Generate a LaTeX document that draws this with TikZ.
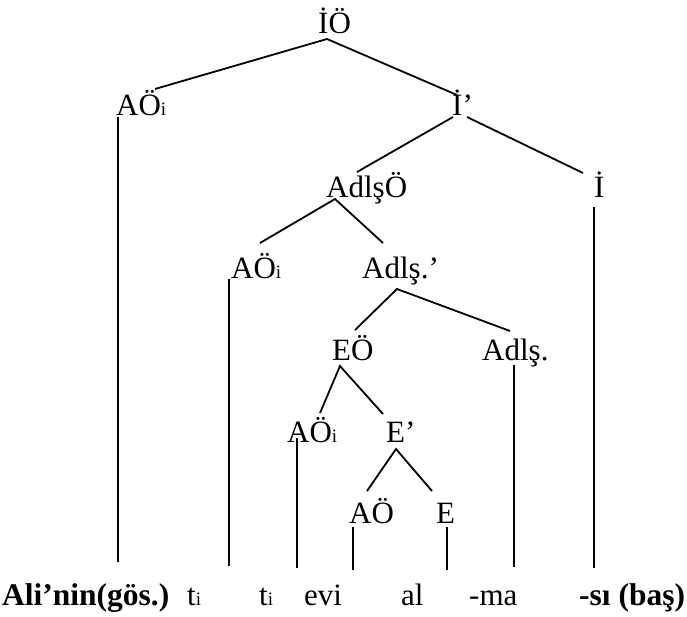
\documentclass[tikz,border=0pt]{standalone}
\usepackage{fontspec}
\setmainfont{Liberation Serif}
\newcommand{\sbi}{{\fontsize{19}{19}\selectfont i}}
\begin{document}
\begin{tikzpicture}[x=1pt,y=-1pt,
  lbl/.style={inner sep=0pt, anchor=base west, font=\fontsize{31}{36}\selectfont},
  wrd/.style={lbl, font=\fontsize{31.5}{36}\selectfont\bfseries},
  edge/.style={line width=1.8pt}]
\useasboundingbox (0,0) rectangle (687,616);
% labels
\node[lbl] (IO) at (318,33) {İÖ};
\node[lbl] (AO1) at (116,115) {AÖ\sbi};
\node[lbl] (Ip) at (452,115) {İ’};
\node[lbl] (AdlsO) at (326,197) {AdlşÖ};
\node[lbl] (I) at (594,197) {İ};
\node[lbl] (AO2) at (231,278) {AÖ\sbi};
\node[lbl] (Adlsp) at (362,278) {Adlş.’};
\node[lbl] (EO) at (332,360) {EÖ};
\node[lbl] (Adls) at (482,360) {Adlş.};
\node[lbl] (AO3) at (287,442) {AÖ\sbi};
\node[lbl] (Ep) at (386,442) {E’};
\node[lbl] (AO) at (349,523) {AÖ};
\node[lbl] (E) at (436,523) {E};
% words
\node[wrd] (w1) at (2,605) {Ali’nin(gös.)};
\node[lbl] (w2) at (187,605) {t\sbi};
\node[lbl] (w3) at (259,605) {t\sbi};
\node[lbl] (w4) at (304,605) {evi};
\node[lbl] (w5) at (401,605) {al};
\node[lbl] (w6) at (469,605) {-ma};
\node[wrd] (w7) at (579,605) {-sı (baş)};
% connector points
\coordinate (IO-b) at (327,39);
\coordinate (AO1-t) at (155,89);
\coordinate (Ip-t) at (457,95);
\coordinate (AO1-b) at (118,117);
\coordinate (w1-t) at (118,562);
\coordinate (Ip-bl) at (453,117);
\coordinate (Ip-br) at (467,117);
\coordinate (AdlsO-t) at (357,172);
\coordinate (I-t) at (583,173);
\coordinate (I-b) at (594,207);
\coordinate (w7-t) at (594,568);
\coordinate (AdlsO-b) at (335,199);
\coordinate (AO2-t) at (260,243);
\coordinate (Adlsp-t) at (383,243);
\coordinate (AO2-b) at (229,279);
\coordinate (w2-t) at (229,566);
\coordinate (Adlsp-b) at (397,289);
\coordinate (EO-t) at (355,330);
\coordinate (Adls-t) at (510,331);
\coordinate (Adls-b) at (514,365);
\coordinate (w6-t) at (514,567);
\coordinate (EO-b) at (340,366);
\coordinate (AO3-t) at (320,413);
\coordinate (Ep-t) at (383,414);
\coordinate (AO3-b) at (297,438);
\coordinate (w3-t) at (297,568);
\coordinate (Ep-b) at (396,449);
\coordinate (AO-t) at (367,491);
\coordinate (E-t) at (432,491);
\coordinate (AO-b) at (353,527);
\coordinate (w4-t) at (353,570);
\coordinate (E-b) at (447,527);
\coordinate (w5-t) at (447,570);
% connectors
\draw[edge] (AO1-t) -- (IO-b) -- (Ip-t);
\draw[edge] (AO1-b) -- (w1-t);
\draw[edge] (AdlsO-t) -- (Ip-bl);
\draw[edge] (Ip-br) -- (I-t);
\draw[edge] (I-b) -- (w7-t);
\draw[edge] (AO2-t) -- (AdlsO-b) -- (Adlsp-t);
\draw[edge] (AO2-b) -- (w2-t);
\draw[edge] (EO-t) -- (Adlsp-b) -- (Adls-t);
\draw[edge] (Adls-b) -- (w6-t);
\draw[edge] (AO3-t) -- (EO-b) -- (Ep-t);
\draw[edge] (AO3-b) -- (w3-t);
\draw[edge] (AO-t) -- (Ep-b) -- (E-t);
\draw[edge] (AO-b) -- (w4-t);
\draw[edge] (E-b) -- (w5-t);
\end{tikzpicture}
\end{document}
